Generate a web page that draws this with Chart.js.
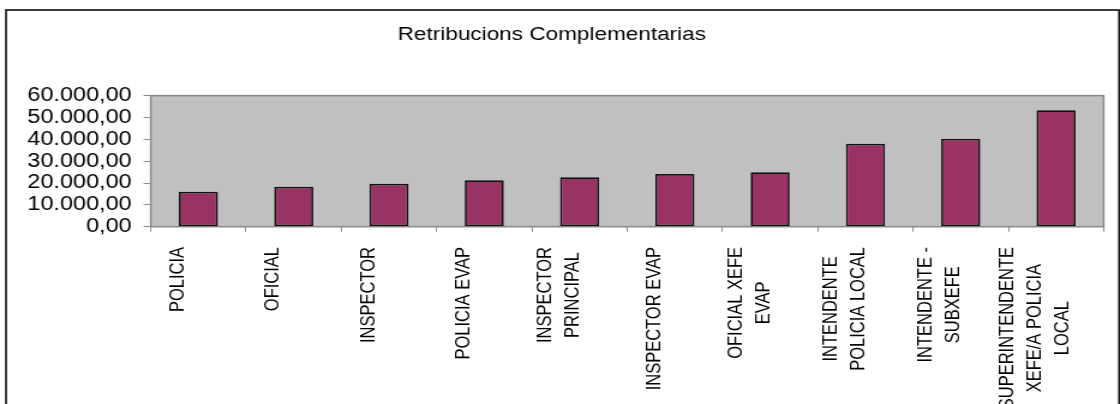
<!DOCTYPE html>
<html><head><meta charset="utf-8">
<script src="https://cdn.jsdelivr.net/npm/chart.js@4"></script>
<style>
html,body{margin:0;padding:0;background:#fff;overflow:hidden;}
#wrap{width:933px;height:404px;transform:scaleX(1.2004);transform-origin:0 0;}
canvas{display:block;}
</style></head><body>
<div id="wrap"><canvas id="c" width="933" height="404"></canvas></div>
<script>
const chartTitle = 'Retribucions Complementarias';
const categories = [
  ['POLICIA'],
  ['OFICIAL'],
  ['INSPECTOR'],
  ['POLICIA EVAP'],
  ['INSPECTOR', 'PRINCIPAL'],
  ['INSPECTOR EVAP'],
  ['OFICIAL XEFE', 'EVAP'],
  ['INTENDENTE', 'POLICIA LOCAL'],
  ['INTENDENTE -', 'SUBXEFE'],
  ['SUPERINTENDENTE', 'XEFE/A POLICIA', 'LOCAL']
];
const values = [16000, 18300, 19700, 21300, 22600, 24100, 24900, 38000, 40200, 53300];
const yTickValues = [0, 10000, 20000, 30000, 40000, 50000, 60000];
const yTickLabels = ['0,00', '10.000,00', '20.000,00', '30.000,00', '40.000,00', '50.000,00', '60.000,00'];

const FONT = "'Liberation Sans', Arial, sans-serif";

const plotBg = {
  id: 'plotBg',
  beforeDraw(chart) {
    const {ctx, chartArea: a} = chart;
    ctx.save();
    ctx.fillStyle = '#C0C0C0';
    ctx.fillRect(a.left, a.top, a.right - a.left, a.bottom - a.top);
    ctx.strokeStyle = '#888888';
    ctx.lineWidth = 1.5;
    ctx.strokeRect(a.left, a.top, a.right - a.left, a.bottom - a.top);
    ctx.restore();
  },
  afterDraw(chart) {
    const {ctx} = chart;
    ctx.save();
    // outer frame
    ctx.strokeStyle = '#1a1a1a';
    ctx.lineWidth = 1.7;
    ctx.strokeRect(5, 10, 927.3, 500);
    // x category labels, rotated, lines centred in the block
    const xs = chart.scales.x;
    ctx.font = '16.5px ' + FONT;
    ctx.fillStyle = '#000';
    ctx.textAlign = 'center';
    ctx.textBaseline = 'middle';
    const lh = 23;
    const anchorY = 247;
    chart.data.labels.forEach((lab, i) => {
      const lines = Array.isArray(lab) ? lab : [lab];
      const cx = xs.getPixelForValue(i) - 17;
      const maxW = Math.max(...lines.map(l => ctx.measureText(l).width));
      const n = lines.length;
      lines.forEach((ln, j) => {
        const x = cx + (j - (n - 1) / 2) * lh;
        ctx.save();
        ctx.translate(x, anchorY);
        ctx.rotate(-Math.PI / 2);
        ctx.fillText(ln, -maxW / 2, 0);
        ctx.restore();
      });
    });
    ctx.restore();
  }
};

new Chart(document.getElementById('c'), {
  type: 'bar',
  data: {
    labels: categories,
    datasets: [{
      data: values,
      backgroundColor: '#993366',
      borderColor: '#111111',
      borderWidth: 1.7,
      borderSkipped: false,
      barPercentage: 0.41,
      categoryPercentage: 1
    }]
  },
  options: {
    responsive: false,
    animation: false,
    devicePixelRatio: 1,
    layout: { padding: { left: 0, right: 13.6, top: 0, bottom: 0 } },
    plugins: {
      legend: { display: false },
      tooltip: { enabled: false },
      title: {
        display: true,
        text: chartTitle,
        color: '#000',
        font: { family: FONT, size: 18.8, weight: 'normal', lineHeight: 1.2 },
        padding: { top: 23.7, bottom: 49.4 }
      }
    },
    scales: {
      x: {
        type: 'category',
        offset: true,
        border: { display: false },
        grid: { display: true, drawOnChartArea: false, drawTicks: true, tickLength: 5, color: '#8a8a8a', lineWidth: 1, offset: true },
        ticks: { display: false },
        afterFit(scale) { scale.height = 177.3; }
      },
      y: {
        min: 0,
        max: 60000,
        border: { display: false },
        grid: { display: true, drawOnChartArea: false, drawTicks: true, tickLength: 6, color: '#8a8a8a', lineWidth: 1 },
        ticks: {
          stepSize: 10000,
          autoSkip: false,
          padding: 10,
          color: '#000',
          font: { family: FONT, size: 19.5, lineHeight: 1 },
          callback: (v) => { const k = yTickValues.indexOf(v); return k >= 0 ? yTickLabels[k] : ''; }
        },
        afterFit(scale) { scale.width = 125.6; }
      }
    }
  },
  plugins: [plotBg]
});
</script>
</body></html>
